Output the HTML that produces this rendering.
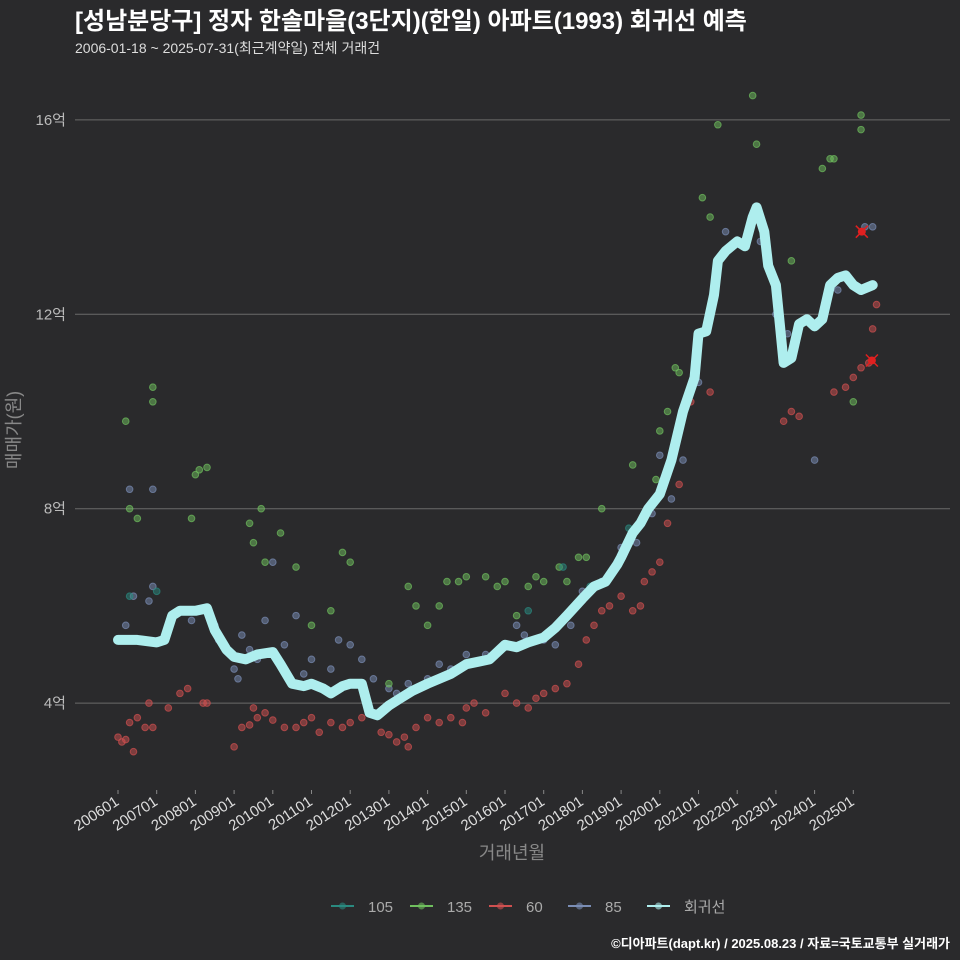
<!DOCTYPE html>
<html><head><meta charset="utf-8"><style>
html,body{margin:0;padding:0;background:#2a2a2c;}
svg{display:block;font-family:"Liberation Sans","Noto Sans CJK KR",sans-serif;}
</style></head><body>
<svg id="chart" width="960" height="960" viewBox="0 0 960 960">
<rect width="960" height="960" fill="#2a2a2c"/>
<text x="75" y="29" fill="#ffffff" font-size="24" font-weight="bold">[성남분당구] 정자 한솔마을(3단지)(한일) 아파트(1993) 회귀선 예측</text>
<text x="75" y="53" fill="#dddddd" font-size="14">2006-01-18 ~ 2025-07-31(최근계약일) 전체 거래건</text>
<g id="grid"></g><g id="pts"></g><g id="line"></g><g id="axes"></g>
<text x="20" y="430" fill="#888" font-size="18" transform="rotate(-90 20 430)" text-anchor="middle">매매가(원)</text>
<text x="512" y="859" fill="#888" font-size="18" text-anchor="middle">거래년월</text>
<g id="legend"></g>
<text x="950" y="948" fill="#ffffff" font-size="13" font-weight="bold" text-anchor="end">©디아파트(dapt.kr) / 2025.08.23 / 자료=국토교통부 실거래가</text>
</svg>
<script>
const yTicks=[4,8,12,16];
const yTickLabels=["4억","8억","12억","16억"];
const xTickYears=[2006,2007,2008,2009,2010,2011,2012,2013,2014,2015,2016,2017,2018,2019,2020,2021,2022,2023,2024,2025];
const xTickLabels=["200601","200701","200801","200901","201001","201101","201201","201301","201401","201501","201601","201701","201801","201901","202001","202101","202201","202301","202401","202501"];
const lineYears=[2006.0,2006.5,2007.0,2007.2,2007.4,2007.6,2008.0,2008.3,2008.5,2008.8,2009.0,2009.3,2009.6,2010.0,2010.2,2010.5,2010.8,2011.0,2011.3,2011.5,2011.8,2012.0,2012.3,2012.5,2012.7,2013.0,2013.3,2013.6,2014.0,2014.3,2014.6,2015.0,2015.3,2015.6,2016.0,2016.3,2016.6,2017.0,2017.3,2017.6,2018.0,2018.3,2018.6,2018.9,2019.0,2019.3,2019.5,2019.7,2020.0,2020.3,2020.6,2020.9,2021.0,2021.2,2021.4,2021.5,2021.7,2022.0,2022.2,2022.4,2022.5,2022.7,2022.8,2023.0,2023.1,2023.2,2023.4,2023.6,2023.8,2024.0,2024.2,2024.4,2024.6,2024.8,2025.0,2025.2,2025.5];
const lineValues=[5.3,5.3,5.25,5.3,5.8,5.9,5.9,5.95,5.5,5.1,4.95,4.9,5.0,5.05,4.8,4.4,4.35,4.4,4.3,4.2,4.35,4.4,4.4,3.8,3.75,3.95,4.1,4.25,4.4,4.5,4.6,4.8,4.85,4.9,5.2,5.15,5.25,5.35,5.55,5.8,6.15,6.4,6.5,6.85,7.0,7.5,7.7,8.0,8.3,9.0,10.0,10.7,11.6,11.65,12.4,13.1,13.3,13.5,13.4,14.0,14.2,13.7,13.0,12.6,11.8,11.0,11.1,11.8,11.9,11.75,11.9,12.6,12.75,12.8,12.6,12.5,12.6];
const s60Years=[2006.0,2006.1,2006.2,2006.3,2006.4,2006.5,2006.7,2006.8,2006.9,2007.3,2007.6,2007.8,2008.2,2008.3,2009.0,2009.2,2009.4,2009.6,2009.8,2009.5,2010.0,2010.3,2010.6,2010.8,2011.0,2011.2,2011.5,2011.8,2012.0,2012.3,2012.8,2013.0,2013.2,2013.4,2013.5,2013.7,2014.0,2014.3,2014.6,2014.9,2015.0,2015.2,2015.5,2016.0,2016.3,2016.6,2016.8,2017.0,2017.3,2017.6,2017.9,2018.1,2018.3,2018.5,2018.7,2019.0,2019.3,2019.5,2019.6,2019.8,2020.0,2020.2,2020.5,2020.8,2021.3,2023.2,2023.4,2023.6,2024.5,2024.8,2025.2,2025.4,2025.5,2025.6,2025.0];
const s60Values=[3.3,3.2,3.25,3.6,3.0,3.7,3.5,4.0,3.5,3.9,4.2,4.3,4.0,4.0,3.1,3.5,3.55,3.7,3.8,3.9,3.65,3.5,3.5,3.6,3.7,3.4,3.6,3.5,3.6,3.7,3.4,3.35,3.2,3.3,3.1,3.5,3.7,3.6,3.7,3.6,3.9,4.0,3.8,4.2,4.0,3.9,4.1,4.2,4.3,4.4,4.8,5.3,5.6,5.9,6.0,6.2,5.9,6.0,6.5,6.7,6.9,7.7,8.5,10.2,10.4,9.8,10.0,9.9,10.4,10.5,10.9,11.0,11.7,12.2,10.7];
const s85Years=[2006.0,2006.2,2006.3,2006.4,2006.8,2006.9,2006.9,2007.9,2008.5,2008.6,2009.0,2009.1,2009.2,2009.4,2009.6,2009.8,2010.0,2010.3,2010.6,2010.8,2011.0,2011.5,2011.7,2012.0,2012.3,2012.6,2013.0,2013.2,2013.5,2014.0,2014.3,2014.6,2015.0,2015.5,2016.0,2016.3,2016.5,2017.0,2017.3,2017.7,2018.0,2018.5,2019.0,2019.4,2019.8,2020.0,2020.3,2020.6,2021.0,2021.4,2021.7,2022.0,2022.3,2022.6,2023.0,2023.3,2023.6,2024.0,2024.6,2025.3,2025.5];
const s85Values=[5.3,5.6,8.4,6.2,6.1,6.4,8.4,5.7,5.6,5.3,4.7,4.5,5.4,5.1,4.9,5.7,6.9,5.2,5.8,4.6,4.9,4.7,5.3,5.2,4.9,4.5,4.3,4.2,4.4,4.5,4.8,4.7,5.0,5.0,5.2,5.6,5.4,5.3,5.2,5.6,6.3,6.5,7.2,7.3,7.9,9.1,8.2,9.0,10.6,12.5,13.7,13.5,13.7,13.5,12.0,11.6,11.8,9.0,12.5,13.8,13.8];
const s135Years=[2006.2,2006.3,2006.5,2006.9,2006.9,2007.9,2008.0,2008.1,2008.3,2009.4,2009.5,2009.7,2009.8,2010.2,2010.6,2011.0,2011.5,2011.8,2012.0,2013.0,2013.5,2013.7,2014.0,2014.3,2014.5,2014.8,2015.0,2015.5,2015.8,2016.0,2016.3,2016.6,2016.8,2017.0,2017.4,2017.6,2017.9,2018.1,2018.5,2019.3,2019.9,2020.0,2020.2,2020.4,2020.5,2020.9,2021.1,2021.3,2021.5,2022.4,2022.5,2023.4,2024.2,2024.4,2024.5,2025.0,2025.2,2025.2];
const s135Values=[9.8,8.0,7.8,10.5,10.2,7.8,8.7,8.8,8.85,7.7,7.3,8.0,6.9,7.5,6.8,5.6,5.9,7.1,6.9,4.4,6.4,6.0,5.6,6.0,6.5,6.5,6.6,6.6,6.4,6.5,5.8,6.4,6.6,6.5,6.8,6.5,7.0,7.0,8.0,8.9,8.6,9.6,10.0,10.9,10.8,10.7,14.4,14.0,15.9,16.5,15.5,13.1,15.0,15.2,15.2,10.2,16.1,15.8];
const s105Years=[2006.3,2007.0,2016.6,2017.5,2018.2,2019.2];
const s105Values=[6.2,6.3,5.9,6.8,6.4,7.6];
const predYears=[2025.22,2025.48];
const predValues=[13.7,11.05];

const NS="http://www.w3.org/2000/svg";
const xs=y=>118+(y-2006)*38.7;
const ys=v=>897.5-v*48.6;
function mk(tag,attrs,parent){const e=document.createElementNS(NS,tag);for(const k in attrs)e.setAttribute(k,attrs[k]);parent.appendChild(e);return e;}
const grid=document.getElementById('grid'),axes=document.getElementById('axes');
yTicks.forEach((t,i)=>{
 const l=mk('line',{x1:75,x2:950,y1:ys(t),y2:ys(t),stroke:'#6a6a6a','stroke-width':1},grid);
 
 
 const tx=mk('text',{x:66,y:ys(t)+5,fill:'#bbb','font-size':15,'text-anchor':'end'},axes);
 tx.textContent=yTickLabels[i];
 
 
});
xTickYears.forEach((yr,i)=>{
 const x=xs(yr);
 const tk=mk('line',{x1:x,x2:x,y1:790,y2:794,stroke:'#888'},axes);
 
 
 const tx=mk('text',{x:x+2,y:804,fill:'#ddd','font-size':15,'text-anchor':'end',transform:`rotate(-33 ${x+2} 804)`},axes);
 tx.textContent=xTickLabels[i];
 
 
});
const pts=document.getElementById('pts');
function scatter(yrs,vals,col,name){yrs.forEach((yr,i)=>{
 const c=mk('circle',{cx:xs(yr),cy:ys(vals[i]),r:3.3,fill:col,'fill-opacity':0.5,stroke:col,'stroke-opacity':0.7,'stroke-width':1},pts);
 
 
});}
scatter(s85Years,s85Values,'#7a8db5','point-85');
scatter(s135Years,s135Values,'#6fbf5e','point-135');
scatter(s60Years,s60Values,'#d05050','point-60');
scatter(s105Years,s105Values,'#2a8a80','point-105');
const lg=document.getElementById('line');
let d=lineYears.map((yr,i)=>(i?'L':'M')+xs(yr).toFixed(1)+','+ys(lineValues[i]).toFixed(1)).join(' ');
const p=mk('path',{d:d,fill:'none',stroke:'#aeeeee','stroke-width':10,'stroke-linejoin':'round','stroke-linecap':'round'},lg);


predYears.forEach((yr,i)=>{
 const x=xs(yr),y=ys(predValues[i]);
 const c=mk('circle',{cx:x,cy:y,r:4,fill:'#e02020'},lg);
 
 
 const xm=mk('path',{d:`M${x-6},${y-6}L${x+6},${y+6}M${x-6},${y+6}L${x+6},${y-6}`,stroke:'#e02020','stroke-width':1.5},lg);
 
 
});
const legendNames=["105","135","60","85","회귀선"];
const legendColors=["#2a8a80","#6fbf5e","#d05050","#7a8db5","#aeeeee"];
const legendX=[331,410,489,568,647];
const leg=document.getElementById('legend');
legendNames.forEach((n,i)=>{
 const g=mk('g',{},leg);
 
 
 const x=legendX[i];
 mk('line',{x1:x,x2:x+23,y1:906,y2:906,stroke:legendColors[i],'stroke-width':2},g);
 mk('circle',{cx:x+11.5,cy:906,r:3.5,fill:legendColors[i],'fill-opacity':0.6},g);
 const t=mk('text',{x:x+37,y:912,fill:'#aaa','font-size':15},g);
 t.textContent=n;
});
</script>
</body></html>
